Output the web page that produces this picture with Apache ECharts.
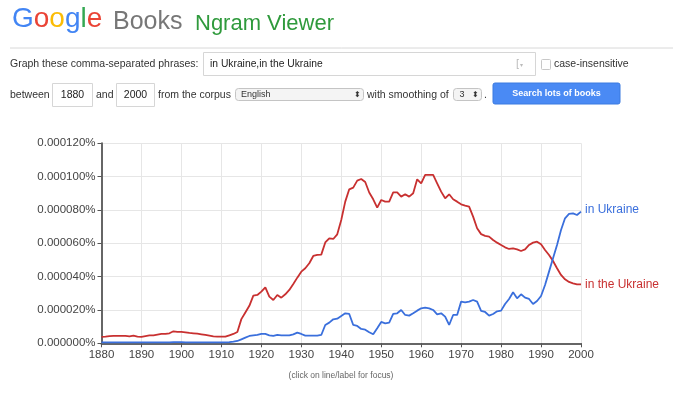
<!DOCTYPE html>
<html>
<head>
<meta charset="utf-8">
<script src="https://cdn.jsdelivr.net/npm/echarts@6/dist/echarts.min.js"></script>
<style>
html,body{margin:0;padding:0;background:#fff;}
#chart{width:673px;height:395px;}
</style>
</head>
<body>
<div id="chart"></div>
<script>
// Years on the x axis
const years = [];
for (let y = 1880; y <= 2000; y++) years.push(y);

// Values in millionths of a percent (e.g. 35.4 -> 0.0000354%)
const inTheUkraine = [
  3.8,4.0,4.3,4.4,4.5,4.5,4.5,4.2,4.6,4.0,
  3.9,4.3,4.7,4.8,5.2,5.6,5.6,6.0,7.2,6.9,
  6.8,6.6,6.2,6.0,5.8,5.4,5.0,4.6,4.2,4.0,
  4.0,4.0,4.8,5.6,6.8,14.5,18.5,22.5,28.6,29.0,
  31.0,33.6,28.0,26.0,29.0,27.4,29.4,32.0,35.6,39.4,
  43.0,45.0,48.0,52.4,53.0,53.2,60.5,63.0,62.6,65.4,
  74.0,85.0,92.4,93.4,97.6,98.6,96.8,90.5,86.4,81.4,
  86.0,85.0,85.0,90.6,90.6,88.0,89.4,88.0,90.0,98.4,
  96.0,101.0,101.0,101.0,96.0,91.0,87.0,89.4,86.4,85.0,
  83.4,82.6,82.0,76.0,69.0,65.5,64.5,64.0,62.0,60.4,
  59.0,57.6,56.6,57.0,56.4,55.4,56.4,59.0,60.4,61.0,
  59.4,56.0,53.0,49.4,45.0,41.0,38.4,36.8,36.0,35.4,
  35.4
];
const inUkraine = [
  0.6,0.6,0.6,0.6,0.6,0.6,0.6,0.6,0.6,0.6,
  0.6,0.6,0.6,0.6,0.6,0.6,0.6,0.6,0.7,0.7,
  0.7,0.6,0.6,0.6,0.6,0.6,0.6,0.6,0.6,0.6,
  0.6,0.6,0.7,1.0,1.4,2.4,3.4,4.4,4.8,5.0,
  5.6,5.6,4.8,4.4,5.0,4.8,4.8,4.8,5.4,6.4,
  5.6,4.6,4.6,4.6,4.6,5.0,11.0,12.4,14.4,14.8,
  16.4,18.0,17.6,11.0,10.4,8.6,8.2,6.6,5.4,9.0,
  12.8,12.0,12.4,17.6,18.0,20.0,17.0,16.6,18.0,19.6,
  21.0,21.4,21.0,20.0,17.4,18.0,16.0,11.0,17.0,17.0,
  25.0,24.6,25.0,26.0,25.0,19.5,18.8,16.6,17.6,19.2,
  19.6,23.6,26.6,30.6,27.0,29.4,27.4,26.6,23.6,25.4,
  28.4,35.0,43.0,51.0,59.0,68.0,75.0,77.6,78.0,77.0,
  79.0
];
const seriesNames = ['in Ukraine', 'in the Ukraine'];
const yTicks = [0, 20, 40, 60, 80, 100, 120];

const FONT = '"Liberation Sans", Arial, sans-serif';
const BLUE = '#3a6fdc';
const RED = '#c83030';

const chart = echarts.init(document.getElementById('chart'), null, {renderer: 'canvas'});

function box(x, y, w, h, r, fill, stroke) {
  return {type: 'rect', shape: {x: x, y: y, width: w, height: h, r: r || 0},
          style: {fill: fill || '#fff', stroke: stroke || '#d6d6d6', lineWidth: 1}, silent: true};
}
function txt(x, y, s, size, color, extra) {
  return Object.assign({type: 'text', x: x, y: y, silent: true,
    style: Object.assign({text: s, font: (size || 10.5) + 'px ' + FONT, fill: color || '#333',
      verticalAlign: 'middle', align: 'left'}, extra || {})});
}

const graphics = [
  // Logo
  {type: 'text', x: 12, y: 33, silent: true, style: {
    text: '{b|G}{r|o}{y|o}{b|g}{g|l}{r|e}', verticalAlign: 'bottom',
    rich: {
      b: {fill: '#4285F4', font: '28px ' + FONT, verticalAlign: 'bottom'},
      r: {fill: '#EA4335', font: '28px ' + FONT, verticalAlign: 'bottom'},
      y: {fill: '#FBBC05', font: '28px ' + FONT, verticalAlign: 'bottom'},
      g: {fill: '#34A853', font: '28px ' + FONT, verticalAlign: 'bottom'}
    }}},
  txt(113, 22, 'Books', 25, '#777777'),
  txt(195, 24, 'Ngram Viewer', 22, '#2f9a3c'),
  {type: 'line', shape: {x1: 10, y1: 48, x2: 673, y2: 48}, style: {stroke: '#d8d8d8', lineWidth: 1}, silent: true},
  // Row 1
  txt(10, 64, 'Graph these comma-separated phrases:', 10.5, '#333'),
  box(203.5, 52.5, 332, 23, 0),
  txt(210, 64, 'in Ukraine,in the Ukraine', 10.3, '#222'),
  txt(516, 64, '[', 11, '#bbb'),
  txt(520, 65, '▾', 6, '#bbb'),
  box(541.5, 59.5, 9, 10, 1, '#fff', '#c8c8c8'),
  txt(554, 64, 'case-insensitive', 10.5, '#333'),
  // Row 2
  txt(10, 95, 'between', 10.5, '#333'),
  box(52.5, 83.5, 40, 23, 0),
  txt(72.5, 95, '1880', 10.5, '#222', {align: 'center'}),
  txt(96, 95, 'and', 10.5, '#333'),
  box(116.5, 83.5, 38, 23, 0),
  txt(135.5, 95, '2000', 10.5, '#222', {align: 'center'}),
  txt(158, 95, 'from the corpus', 10.5, '#333'),
  box(235.5, 88.5, 128, 12, 3, '#f4f4f4', '#c4c4c4'),
  txt(241, 94.5, 'English', 9, '#333'),
  txt(357, 94.5, '⬍', 8, '#333', {align: 'center'}),
  txt(367, 95, 'with smoothing of', 10.5, '#333'),
  box(453.5, 88.5, 28, 12, 3, '#f4f4f4', '#c4c4c4'),
  txt(462, 94.5, '3', 9, '#333', {align: 'center'}),
  txt(475, 94.5, '⬍', 8, '#333', {align: 'center'}),
  txt(484, 95, '.', 10.5, '#333'),
  {type: 'rect', shape: {x: 493, y: 83, width: 127, height: 21, r: 2},
   style: {fill: '#4a8af4', stroke: '#3b7ae0', lineWidth: 1}, silent: true},
  txt(556.5, 94, 'Search lots of books', 9, '#ffffff', {align: 'center',
      font: 'bold 9px ' + FONT}),
  // Footnote
  txt(341, 376, '(click on line/label for focus)', 8.5, '#666', {align: 'center'})
];

const option = {
  animation: false,
  backgroundColor: '#ffffff',
  textStyle: {fontFamily: FONT},
  grid: {left: 101.5, right: 92, top: 143.3, bottom: 51.7, containLabel: false},
  xAxis: {
    type: 'value', min: 1880, max: 2000, interval: 10,
    axisLine: {show: true, lineStyle: {color: '#666', width: 2}},
    axisTick: {show: true, length: 4, lineStyle: {color: '#555', width: 1}},
    axisLabel: {color: '#444', fontSize: 11.5, margin: 6, fontFamily: FONT,
                formatter: v => String(v)},
    splitLine: {show: true, lineStyle: {color: '#e6e6e6', width: 1}}
  },
  yAxis: {
    type: 'value', min: yTicks[0], max: yTicks[yTicks.length - 1], interval: 20,
    axisLine: {show: true, lineStyle: {color: '#666', width: 2}},
    axisTick: {show: true, length: 4, lineStyle: {color: '#555', width: 1}},
    axisLabel: {color: '#444', fontSize: 11.5, margin: 6, fontFamily: FONT,
                formatter: v => (v / 1e6).toFixed(6) + '%'},
    splitLine: {show: true, lineStyle: {color: '#e6e6e6', width: 1}}
  },
  series: [
    {
      name: seriesNames[1], type: 'line', showSymbol: false, z: 3,
      data: years.map((y, i) => [y, inTheUkraine[i]]),
      lineStyle: {color: RED, width: 1.8}, itemStyle: {color: RED},
      endLabel: {show: true, formatter: '{a}', color: RED, fontSize: 12, fontFamily: FONT, distance: 4}
    },
    {
      name: seriesNames[0], type: 'line', showSymbol: false, z: 4,
      data: years.map((y, i) => [y, inUkraine[i]]),
      lineStyle: {color: BLUE, width: 1.8}, itemStyle: {color: BLUE},
      endLabel: {show: true, formatter: '{a}', color: BLUE, fontSize: 12, fontFamily: FONT, distance: 4, offset: [0, -2]}
    }
  ],
  graphic: graphics
};
chart.setOption(option);
</script>
</body>
</html>
